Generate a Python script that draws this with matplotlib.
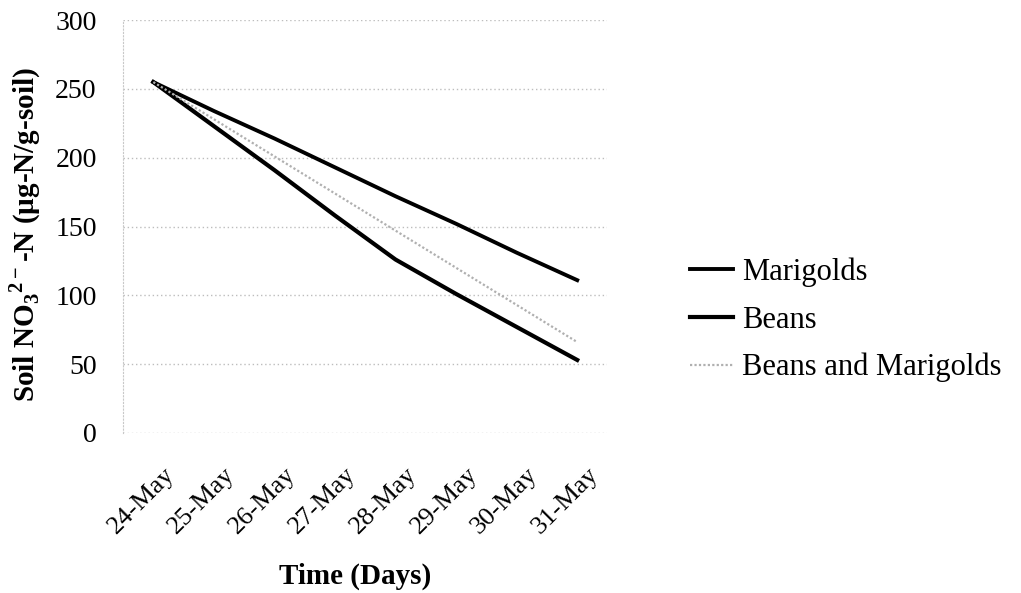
import matplotlib
matplotlib.use("Agg")
import matplotlib.pyplot as plt
import matplotlib.transforms as mtransforms

days = ["24-May", "25-May", "26-May", "27-May", "28-May", "29-May", "30-May", "31-May"]
marigolds = [255, 234, 214, 193, 172, 152, 131, 111]
beans = [255, 223, 191, 158, 126, 101, 77, 53]
beans_marigolds = [255, 228, 201, 174, 147, 120, 93, 66]

plt.rcParams['font.family'] = ['Liberation Serif', 'DejaVu Serif']
plt.rcParams['mathtext.fontset'] = 'custom'
plt.rcParams['mathtext.rm'] = 'Liberation Serif'
plt.rcParams['mathtext.bf'] = 'Liberation Serif:bold'

fig = plt.figure(figsize=(10.21, 5.93), dpi=100)
ax = fig.add_axes([0.1205, 0.27, 0.4745, 0.696])

x = range(len(days))
ax.plot(x, marigolds, color="black", lw=2.8, label="Marigolds")
ax.plot(x, beans, color="black", lw=3.0, label="Beans")
ax.plot(x, beans_marigolds, color="#b0b0b0", lw=1.6, ls=(0, (1, 1)), label="Beans and Marigolds")

ax.set_xlim(-0.5, len(days) - 0.5)
ax.set_ylim(0, 300)
ax.set_yticks(range(0, 301, 50))
ax.set_xticks(list(x))
ax.set_xticklabels(days, rotation=45, ha="right", rotation_mode="anchor", fontsize=19)
ax.tick_params(axis="y", labelsize=20, length=0, pad=19)
ax.tick_params(axis="x", length=0, pad=22)
offset = mtransforms.ScaledTranslation(0.10, 0, fig.dpi_scale_trans)
for lbl in ax.get_xticklabels():
    lbl.set_transform(lbl.get_transform() + offset)

ax.grid(axis="y", color="#bdbdbd", ls=(0, (1, 2)), lw=1)
for s in ["top", "right", "bottom"]:
    ax.spines[s].set_visible(False)
ax.spines["left"].set_color("#c8c8c8")
ax.spines["left"].set_linestyle((0, (1, 2)))

ax.set_ylabel(r"Soil NO$_\mathbf{3}$$^\mathbf{2-}$-N (µg-N/g-soil)", fontsize=21, fontweight="bold")
ax.yaxis.set_label_coords(-0.165, 0.48)
ax.set_xlabel("Time (Days)", fontsize=21, fontweight="bold")
ax.xaxis.set_label_coords(0.48, -0.315)

fig.legend(loc="center left", bbox_to_anchor=(690 / 1021, 1 - 320 / 593), frameon=False,
           fontsize=22, handlelength=1.4, handletextpad=0.3, labelspacing=0.6,
           borderpad=0, borderaxespad=0)

fig.savefig("out.png", dpi=100)
